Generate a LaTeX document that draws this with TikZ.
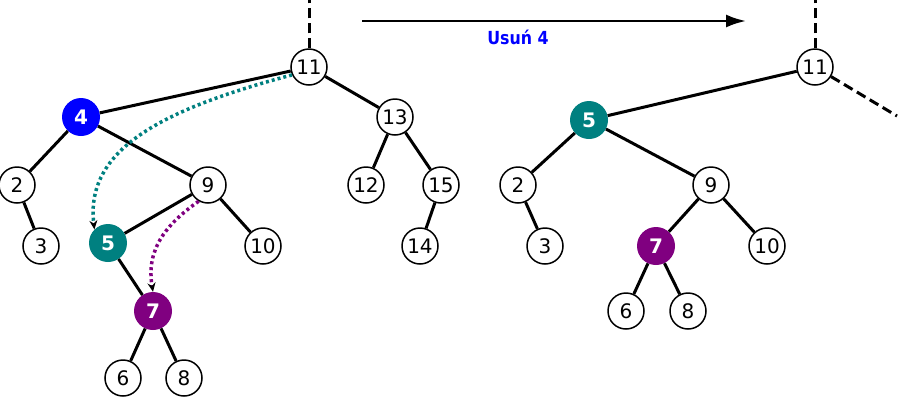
\documentclass[tikz,border=0pt]{standalone}
\usepackage{fontspec}
\setmainfont{DejaVu Sans}
\newfontfamily\labelfont[FakeStretch=0.88]{DejaVu Sans}
\usetikzlibrary{arrows.meta}
\definecolor{delblue}{RGB}{0,0,255}
\definecolor{succteal}{RGB}{0,128,128}
\definecolor{succpurple}{RGB}{128,0,128}
\begin{document}
\begin{tikzpicture}[x=1pt,y=-1pt,
  key/.style={circle,draw=black,line width=1.5pt,fill=white,minimum size=36pt,inner sep=0pt,font=\fontsize{20}{20}\selectfont},
  keyc/.style={circle,minimum size=38pt,inner sep=0pt,text=white,font=\fontsize{20}{20}\selectfont\bfseries},
  edge/.style={line width=3pt},
  dashedge/.style={line width=3pt,dash pattern=on 10pt off 5pt},
  dotpath/.style={line width=3.5pt,dash pattern=on 3pt off 3pt,-{Stealth[length=9pt,width=8pt,black]}},
]
\fill[white] (0,0) rectangle (900,400);
\useasboundingbox (0,0) rectangle (900,400);

% ---------- left tree ----------
\node[key] (a11) at (309,67) {11};
\node[keyc,fill=delblue] (a4) at (81,117) {4};
\node[key] (a13) at (395,117) {13};
\node[key] (a2) at (17,185) {2};
\node[key] (a9) at (208,185) {9};
\node[key] (a12) at (366,185) {12};
\node[key] (a15) at (441,185) {15};
\node[key] (a3) at (41,246) {3};
\node[keyc,fill=succteal] (a5) at (108,243) {5};
\node[key] (a10) at (263,246) {10};
\node[key] (a14) at (420,246) {14};
\node[keyc,fill=succpurple] (a7) at (153,311) {7};
\node[key] (a6) at (123,378) {6};
\node[key] (a8) at (184,378) {8};
\coordinate (atop) at (309,0);

\draw[dashedge] (a11) -- (atop);
\draw[edge] (a11) -- (a4);
\draw[edge] (a11) -- (a13);
\draw[edge] (a4) -- (a2);
\draw[edge] (a4) -- (a9);
\draw[edge] (a13) -- (a12);
\draw[edge] (a13) -- (a15);
\draw[edge] (a2) -- (a3);
\draw[edge] (a9) -- (a5);
\draw[edge] (a9) -- (a10);
\draw[edge] (a15) -- (a14);
\draw[edge] (a5) -- (a7);
\draw[edge] (a7) -- (a6);
\draw[edge] (a7) -- (a8);

\draw[dotpath,succteal] (a11.205) .. controls (160,110) and (85,150) .. (a5.north west);
\draw[dotpath,succpurple] (a9.240) .. controls (165,225) and (146,250) .. (a7.north);

% ---------- arrow ----------
\coordinate (arrs) at (362,21);
\coordinate (arre) at (746,21);
\draw[line width=2.5pt,-{Latex[length=20pt,width=13pt]}] (arrs) -- (arre);
\node[text=delblue,font=\labelfont\fontsize{18}{18}\selectfont\bfseries] (lbl) at (518,37) {Usuń 4};

% ---------- right tree ----------
\node[key] (b11) at (815,67) {11};
\node[keyc,fill=succteal] (b5) at (589,120) {5};
\node[key] (b2) at (518,185) {2};
\node[key] (b9) at (711,185) {9};
\node[key] (b3) at (545,246) {3};
\node[keyc,fill=succpurple] (b7) at (656,246) {7};
\node[key] (b10) at (767,246) {10};
\node[key] (b6) at (626,311) {6};
\node[key] (b8) at (688,311) {8};
\coordinate (btop) at (815,0);
\coordinate (bright) at (897,116);

\draw[dashedge] (b11) -- (btop);
\draw[dashedge] (b11) -- (bright);
\draw[edge] (b11) -- (b5);
\draw[edge] (b5) -- (b2);
\draw[edge] (b5) -- (b9);
\draw[edge] (b2) -- (b3);
\draw[edge] (b9) -- (b7);
\draw[edge] (b9) -- (b10);
\draw[edge] (b7) -- (b6);
\draw[edge] (b7) -- (b8);
\end{tikzpicture}
\end{document}
